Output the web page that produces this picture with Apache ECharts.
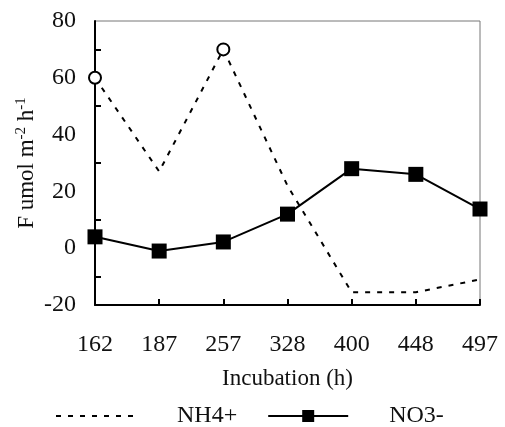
<!DOCTYPE html>
<html>
<head>
<meta charset="utf-8">
<script src="https://cdn.jsdelivr.net/npm/echarts@6/dist/echarts.min.js"></script>
<style>html,body{margin:0;padding:0;background:#fff}#c{width:505px;height:427px}</style>
</head>
<body>
<div id="c"></div>
<script>
var categories = ['162', '187', '257', '328', '400', '448', '497'];
var nh4Values = [60, 27, 70, 22, -15.5, -15.5, -11];
var no3Values = [4, -1, 2.2, 12, 28, 26, 13.8];
var nh4Markers = [0, 2]; // indices drawn with open circles
var yTicks = {min: -20, max: 80, interval: 20};

var font = 'Liberation Serif';
var chart = echarts.init(document.getElementById('c'));
var nh4Data = nh4Values.map(function (v, i) {
  if (nh4Markers.indexOf(i) >= 0) {
    return {value: v, symbol: 'circle', symbolSize: 12,
      itemStyle: {color: '#fff', borderColor: '#000', borderWidth: 2}};
  }
  return {value: v, symbol: 'none'};
});
chart.setOption({
  animation: false,
  backgroundColor: '#fff',
  grid: {left: 95, right: 25, top: 21, bottom: 122, show: true, borderColor: '#777', borderWidth: 1},
  legend: {
    left: 50, top: 399, itemWidth: 80, itemHeight: 15, itemGap: 30,
    textStyle: {fontFamily: font, fontSize: 24, color: '#111', padding: [0, 0, 0, 36]},
    data: [
      {name: 'NH4+', itemStyle: {opacity: 0}},
      {name: 'NO3-'}
    ]
  },
  xAxis: {
    type: 'category', data: categories, boundaryGap: false,
    name: 'Incubation (h)', nameLocation: 'middle', nameGap: 62,
    nameTextStyle: {fontFamily: font, fontSize: 23, color: '#111'},
    axisLine: {onZero: false, lineStyle: {color: '#000', width: 2}},
    axisTick: {inside: true, length: 6, lineStyle: {color: '#000', width: 2}},
    axisLabel: {fontFamily: font, fontSize: 24, color: '#111', margin: 28},
    splitLine: {show: false}
  },
  yAxis: {
    type: 'value', min: yTicks.min, max: yTicks.max, interval: yTicks.interval,
    name: 'F umol m{sup|-2} h{sup|-1}', nameLocation: 'middle', nameGap: 55, nameRotate: 90,
    nameMoveOverlap: false,
    nameTextStyle: {fontFamily: font, fontSize: 23, color: '#111', lineHeight: 26,
      rich: {sup: {fontFamily: font, fontSize: 15, verticalAlign: 'top', lineHeight: 26, color: '#111'}}},
    axisLine: {show: true, lineStyle: {color: '#000', width: 2}},
    axisTick: {inside: true, length: 6, lineStyle: {color: '#000', width: 2}},
    minorTick: {show: true, splitNumber: 2, length: 6, lineStyle: {color: '#000', width: 2}},
    axisLabel: {fontFamily: font, fontSize: 24, color: '#111', margin: 19},
    splitLine: {show: false}
  },
  series: [
    {
      name: 'NH4+', type: 'line', data: nh4Data, symbol: 'none', z: 2,
      lineStyle: {color: '#000', width: 2, type: [5, 7]},
      itemStyle: {color: '#000'}
    },
    {
      name: 'NO3-', type: 'line', data: no3Values, symbol: 'rect', symbolSize: 15, z: 3,
      lineStyle: {color: '#000', width: 2},
      itemStyle: {color: '#000'}
    }
  ]
});
</script>
</body>
</html>
